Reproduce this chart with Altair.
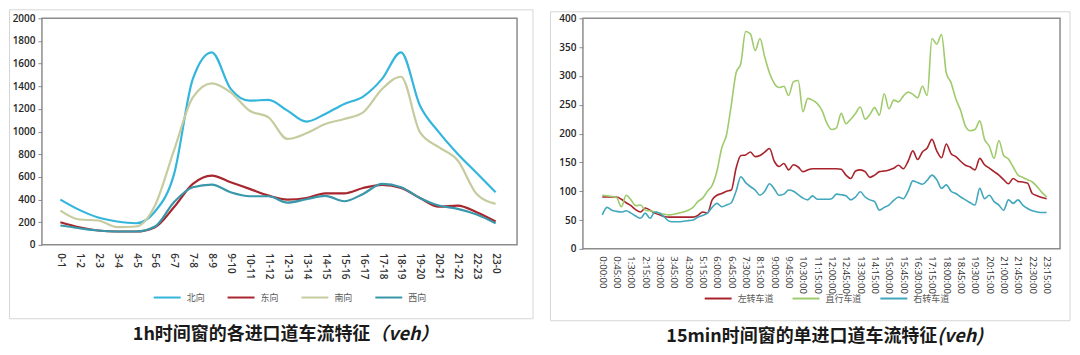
import altair as alt
import pandas as pd

# ---------------- left panel: 1h window ----------------
hours = [f"{h}-{(h + 1) % 24}" for h in range(24)]
north = [400, 309, 241, 206, 191, 295, 620, 1465, 1700, 1377, 1273, 1280,
         1185, 1088, 1156, 1244, 1309, 1465, 1700, 1230, 995, 803, 635, 465]
east = [200, 156, 127, 118, 118, 156, 332, 538, 612, 553, 494, 435,
        400, 414, 455, 455, 502, 529, 503, 414, 338, 347, 288, 206]
south = [303, 224, 215, 156, 162, 348, 832, 1302, 1426, 1346, 1184, 1125,
         935, 985, 1067, 1111, 1170, 1376, 1484, 995, 862, 745, 450, 362]
west = [171, 147, 127, 118, 118, 162, 377, 509, 532, 464, 429, 429,
        373, 403, 432, 385, 450, 538, 509, 414, 347, 318, 268, 191]
dir_names = ["北向", "东向", "南向", "西向"]
dir_colors = ["#33b5dc", "#a8262d", "#c6cc9f", "#3997aa"]

# ---------------- right panel: 15min window ----------------
times = [f"{(i * 15) // 60}:{(i * 15) % 60:02d}:00" for i in range(94)]
left_turn = [90, 90, 90, 90, 86, 80, 75, 68, 64, 71, 67, 62, 59, 56, 55, 55, 55, 55, 55, 55,
             58, 64, 62, 85, 93, 96, 100, 102, 140, 162, 163, 168, 160, 162, 168, 174, 152, 143, 148, 137,
             146, 142, 134, 137, 139, 139, 139, 139, 139, 139, 138, 128, 122, 135, 137, 134, 124, 128, 134, 135,
             137, 140, 145, 139, 152, 170, 155, 168, 175, 190, 170, 158, 182, 165, 160, 152, 145, 142, 137, 157,
             146, 140, 134, 128, 120, 113, 122, 117, 116, 114, 96, 92, 89, 87]
straight = [93, 92, 91, 89, 73, 93, 85, 75, 76, 67, 66, 64, 62, 60, 59, 60, 62, 64, 67, 72,
            82, 88, 100, 110, 135, 175, 198, 250, 305, 322, 377, 373, 344, 365, 333, 305, 287, 280, 282, 266,
            290, 292, 238, 261, 258, 252, 240, 218, 207, 210, 235, 217, 225, 235, 246, 225, 233, 245, 232, 269,
            243, 258, 255, 265, 272, 268, 262, 282, 266, 365, 355, 372, 305, 288, 260, 240, 213, 205, 207, 222,
            190, 178, 157, 188, 162, 156, 142, 128, 124, 120, 116, 108, 98, 90]
right_turn = [59, 72, 67, 65, 64, 66, 62, 57, 53, 62, 53, 64, 62, 55, 48, 47, 47, 48, 49, 50,
              55, 58, 62, 72, 79, 73, 76, 80, 100, 125, 115, 108, 102, 93, 100, 113, 104, 93, 95, 102,
              100, 94, 88, 85, 92, 86, 86, 86, 87, 95, 94, 92, 85, 90, 99, 90, 85, 82, 67, 72,
              76, 84, 90, 87, 100, 118, 115, 112, 119, 128, 120, 105, 111, 100, 96, 90, 85, 80, 76, 105,
              87, 93, 82, 76, 67, 85, 79, 85, 76, 70, 66, 64, 63, 63]
lane_names = ["左转车道", "直行车道", "右转车道"]
lane_colors = ["#a8232c", "#9fcb6c", "#41a7bc"]

left_title = "1h时间窗的各进口道车流特征"
left_unit = "（veh）"
right_title = "15min时间窗的单进口道车流特征"
right_unit = "(veh)"

FONT = "Noto Sans CJK SC"
AX_FONT = "Open Sans"

# ---------------- build tables ----------------
rows = []
for name, vals in zip(dir_names, [north, east, south, west]):
    for h, v in zip(hours, vals):
        rows.append({"period": h, "dir": name, "veh": v})
df_left = pd.DataFrame(rows)

rows = []
for name, vals in zip(lane_names, [left_turn, straight, right_turn]):
    for t, v in zip(times, vals):
        rows.append({"time": t, "lane": name, "veh": v})
df_right = pd.DataFrame(rows)

one = pd.DataFrame({"a": [0]})

LW, LH = 476, 227
RW, RH = 478, 231


def y_axis(vals):
    return alt.Axis(values=vals, format="d", grid=False, domain=False, ticks=True, tickSize=4,
                    tickColor="#8c8c8c", labelFont=AX_FONT, labelFontSize=10,
                    labelFontWeight=600, labelColor="#262626", labelPadding=3, title=None)


def x_axis(vals=None, weight=600, size=10, pad=8):
    kw = dict(grid=False, domain=False, ticks=False, labelAngle=90, labelFont=AX_FONT,
              labelFontSize=size, labelFontWeight=weight, labelColor="#303030",
              labelPadding=pad, labelOverlap=False, title=None)
    if vals is not None:
        kw["values"] = vals
    return alt.Axis(**kw)


def legend(x, y, pad):
    return alt.Legend(orient="none", legendX=x, legendY=y, direction="horizontal",
                      title=None, symbolType="stroke", symbolSize=729, symbolStrokeWidth=2,
                      labelFont=FONT, labelFontSize=9, labelColor="#595959",
                      columnPadding=pad, labelOffset=5, padding=0)


def frame(x1, x2, y1, y2):
    return alt.Chart(one).mark_rect(fillOpacity=0, stroke="#d6d6d6", strokeWidth=1).encode(
        x=alt.value(x1), x2=alt.value(x2), y=alt.value(y1), y2=alt.value(y2))


def caption(text, italic, x, y):
    main = alt.Chart(pd.DataFrame({"t": [text]})).mark_text(
        align="right", baseline="middle", font=FONT, fontSize=18, fontWeight="bold",
        color="#1a1a1a").encode(x=alt.value(x), y=alt.value(y), text="t:N")
    unit = alt.Chart(pd.DataFrame({"t": [italic]})).mark_text(
        align="left", baseline="middle", font=FONT, fontSize=18, fontWeight="bold",
        fontStyle="italic", color="#1a1a1a").encode(x=alt.value(x), y=alt.value(y), text="t:N")
    return main + unit


left_lines = alt.Chart(df_left).mark_line(interpolate="monotone", strokeWidth=2.2).encode(
    x=alt.X("period:O", sort=hours, scale=alt.Scale(type="point", range=[9, 464]), axis=x_axis()),
    y=alt.Y("veh:Q", scale=alt.Scale(domain=[0, 2000], nice=False), axis=y_axis(list(range(0, 2001, 200)))),
    color=alt.Color("dir:N", scale=alt.Scale(domain=dir_names, range=dir_colors),
                    legend=legend(111, 265, 18)),
)

left = alt.layer(
    frame(-32.5, 492, -8.5, 301),
    left_lines,
    caption(left_title, left_unit, 329, 317),
).properties(width=LW, height=LH)

right_lines = alt.Chart(df_right).mark_line(interpolate="monotone", strokeWidth=1.6).encode(
    x=alt.X("time:O", sort=times, scale=alt.Scale(type="point", range=[17, 467]),
            axis=x_axis(times[::3], weight=400, size=9.5, pad=7)),
    y=alt.Y("veh:Q", scale=alt.Scale(domain=[0, 400], nice=False), axis=y_axis(list(range(0, 401, 50)))),
    color=alt.Color("lane:N", scale=alt.Scale(domain=lane_names, range=lane_colors),
                    legend=legend(121, 266, 14)),
)

right = alt.layer(
    frame(-32.5, 488, -6.5, 303),
    right_lines,
    caption(right_title, right_unit, 355, 319),
).properties(width=RW, height=RH)

chart = alt.hconcat(left, right, spacing=14).resolve_scale(color="independent").properties(
    padding=0, background="white"
).configure_view(stroke="#8c8c8c", strokeWidth=1.5)

chart.save("out.html", embed_options={"renderer": "svg", "actions": False})
